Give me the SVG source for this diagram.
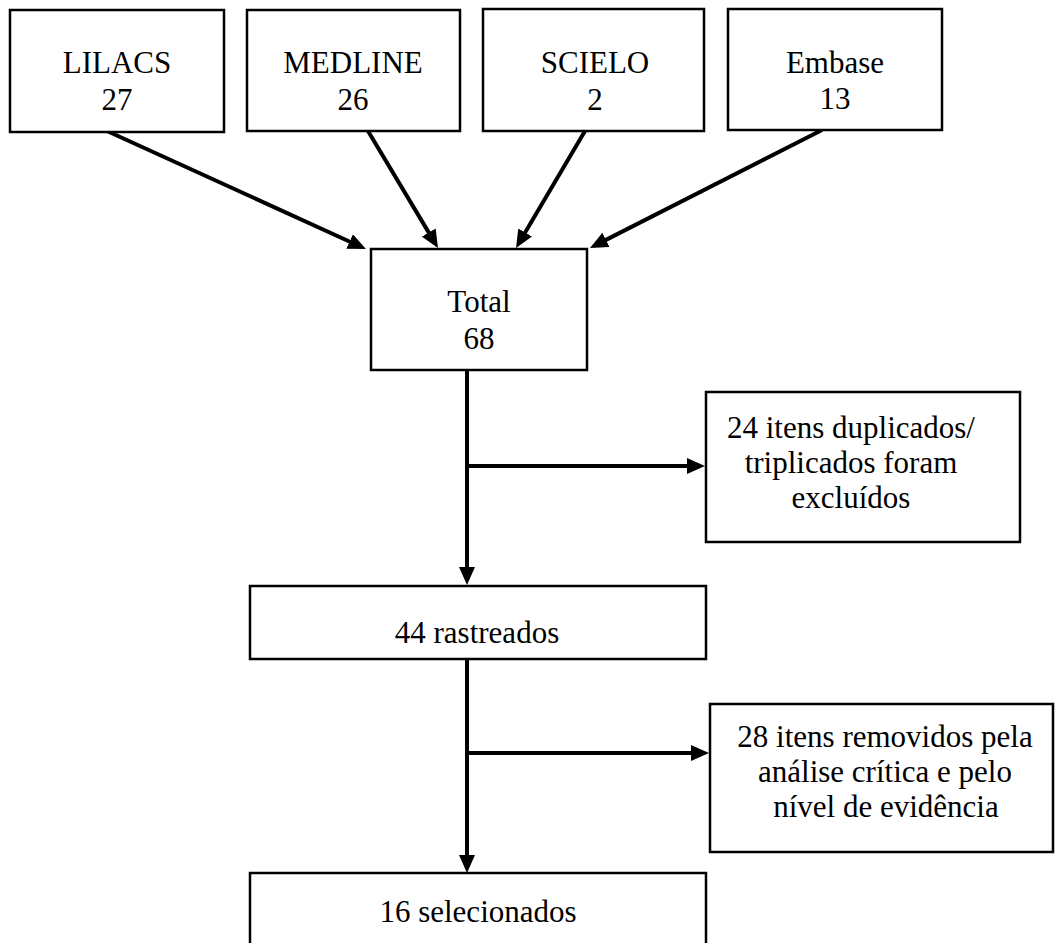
<svg xmlns="http://www.w3.org/2000/svg" width="1055" height="943" viewBox="0 0 1055 943">
<style>
.box{fill:#fff;stroke:#000;stroke-width:2.5}
.t{font-family:"Liberation Serif","Times New Roman",serif;font-size:31px;fill:#000;text-anchor:middle}
.c{stroke:#000;stroke-width:4;fill:none;marker-end:url(#ah)}
</style>
<defs>
<marker id="ah" markerUnits="userSpaceOnUse" markerWidth="18" markerHeight="16" refX="10" refY="8" orient="auto">
<path d="M0,0 L18,8 L0,16 z" fill="#000"/>
</marker>
</defs>
<rect width="1055" height="943" fill="#fff"/>
<g id="connectors">
<line class="c" x1="107" y1="131" x2="358.7" y2="245.7"/>
<line class="c" x1="368" y1="131" x2="433.9" y2="241.1"/>
<line class="c" x1="585" y1="131" x2="520.1" y2="241.1"/>
<line class="c" x1="822" y1="130" x2="597.1" y2="244.4"/>
<line class="c" x1="467" y1="370" x2="467" y2="577"/>
<line class="c" x1="467" y1="466" x2="697" y2="466"/>
<line class="c" x1="467" y1="659" x2="467" y2="865"/>
<line class="c" x1="467" y1="753" x2="701" y2="753"/>
</g>
<g id="lilacs">
<rect class="box" x="10" y="10" width="214" height="122"/>
<text class="t" x="117" y="73">LILACS</text>
<text class="t" x="117" y="110">27</text>
</g>
<g id="medline">
<rect class="box" x="247" y="10" width="213" height="121"/>
<text class="t" x="353" y="73">MEDLINE</text>
<text class="t" x="353" y="110">26</text>
</g>
<g id="scielo">
<rect class="box" x="483" y="9" width="221" height="122"/>
<text class="t" x="595" y="73">SCIELO</text>
<text class="t" x="595" y="110">2</text>
</g>
<g id="embase">
<rect class="box" x="728" y="9" width="214" height="121"/>
<text class="t" x="835" y="73">Embase</text>
<text class="t" x="835" y="109">13</text>
</g>
<g id="total">
<rect class="box" x="371" y="249" width="216" height="121"/>
<text class="t" x="479" y="312">Total</text>
<text class="t" x="479" y="349">68</text>
</g>
<g id="excluidos">
<rect class="box" x="706" y="392" width="314" height="150"/>
<text class="t" x="851" y="438">24 itens duplicados/</text>
<text class="t" x="851" y="473">triplicados foram</text>
<text class="t" x="851" y="508">excluídos</text>
</g>
<g id="rastreados">
<rect class="box" x="250" y="586" width="456" height="73"/>
<text class="t" x="477" y="643">44 rastreados</text>
</g>
<g id="removidos">
<rect class="box" x="710" y="704" width="343" height="148"/>
<text class="t" x="885" y="747">28 itens removidos pela</text>
<text class="t" x="885" y="782">análise crítica e pelo</text>
<text class="t" x="886" y="817">nível de evidência</text>
</g>
<g id="selecionados">
<rect class="box" x="250" y="873" width="456" height="80"/>
<text class="t" x="478" y="922">16 selecionados</text>
</g>
</svg>
